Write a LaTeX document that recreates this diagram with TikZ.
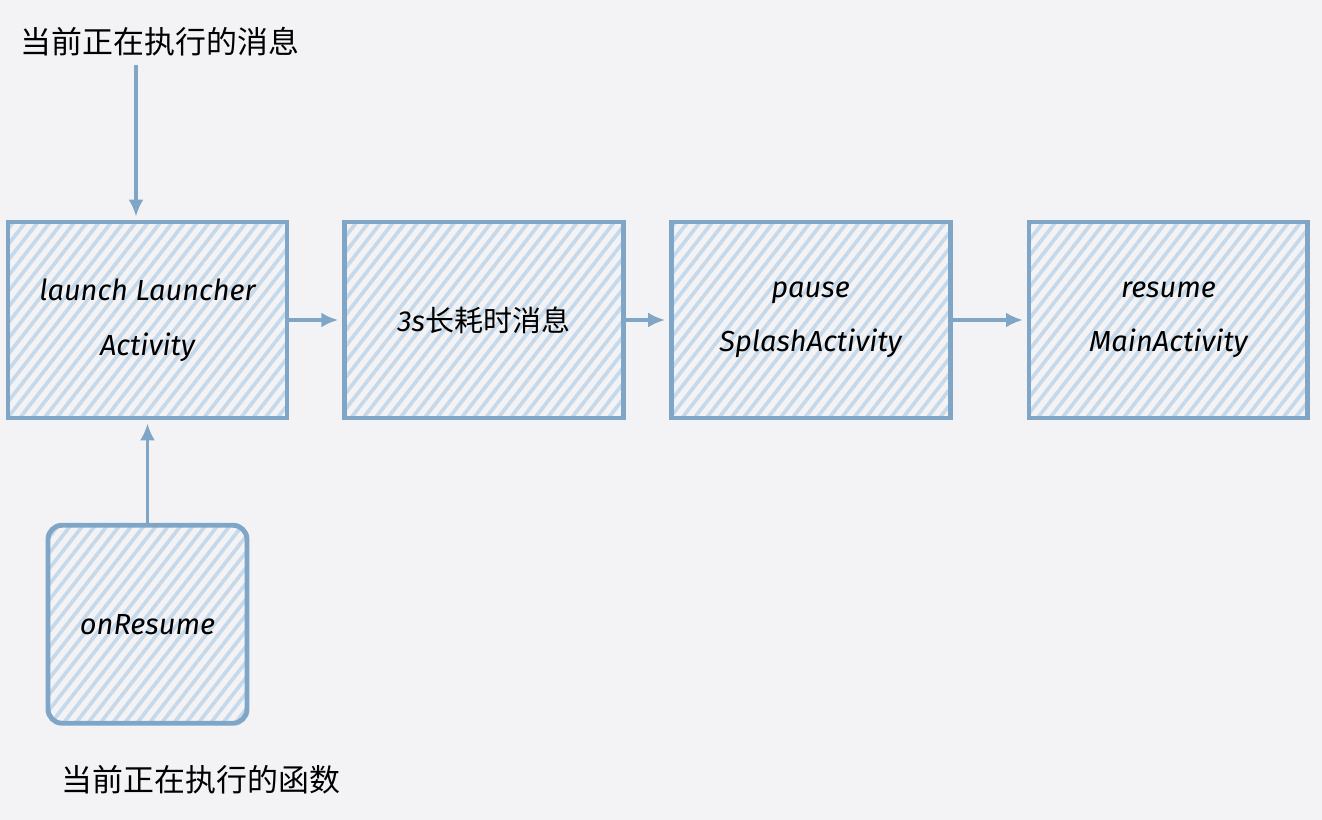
\documentclass[tikz,border=0pt]{standalone}
\usepackage{fontspec}
\setmainfont{Fira Sans}
\newfontfamily\cjk{Noto Sans CJK SC}
\usetikzlibrary{arrows.meta, positioning, patterns.meta}

\definecolor{bg}{HTML}{F3F3F6}
\definecolor{edge}{HTML}{7FA6C6}
\definecolor{hatch}{HTML}{C6D9EA}

\begin{document}
\begin{tikzpicture}[
  x=0.02cm, y=-0.02cm,
  node distance=1.06cm,
  box/.style={draw=edge, line width=2.8pt, align=center, inner sep=0pt,
              minimum width=5.58cm, minimum height=3.92cm,
              pattern={Lines[angle=52, distance=5.5pt, line width=2.1pt]}, pattern color=hatch,
              font=\fontsize{16.5}{31}\selectfont\itshape},
  flow/.style={-{Latex[length=3.4mm, width=3mm]}, draw=edge, line width=2.2pt, shorten >=2pt},
  lab/.style={font=\cjk\fontsize{17.6}{20}\selectfont, inner sep=0pt}
]
\fill[bg] (0,0) rectangle (1322,820);
\useasboundingbox (0,0) rectangle (1322,820);

\node[box] (launch) at (147.5,320) {launch Launcher\\Activity};
\node[box, right=1.06cm of launch] (long) {{\itshape 3s}{\cjk 长耗时消息}};
\node[box, right=0.86cm of long] (pause) {pause\\SplashActivity};
\node[box, right=1.48cm of pause] (main) {resume\\MainActivity};
\node[box, rounded corners=8pt, minimum width=3.98cm, minimum height=3.96cm,
      below=2.06cm of launch] (onres) {onResume};

\node[lab] (msg) at (160,42) {当前正在执行的消息};
\node[lab] (func) at (201,780) {当前正在执行的函数};
\coordinate (src) at (136,0);

\draw[flow] ([yshift=-0.16cm]msg.south -| src) -- (launch.north -| src);
\draw[flow] (onres) -- (launch);
\draw[flow] (launch) -- (long);
\draw[flow] (long) -- (pause);
\draw[flow] (pause) -- (main);
\end{tikzpicture}
\end{document}
